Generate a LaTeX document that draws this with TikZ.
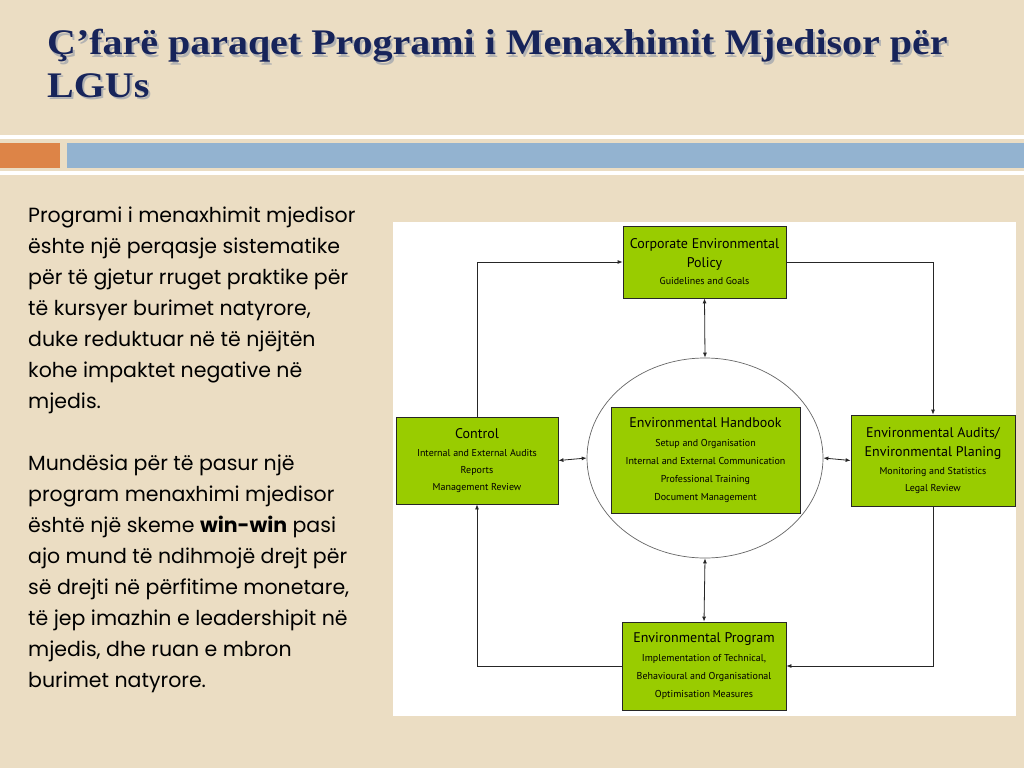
\documentclass[tikz,border=0pt]{standalone}
\usepackage{fontspec}
\setmainfont{Liberation Serif}
\newfontfamily\titlefont[FakeStretch=1.11]{Liberation Serif}
\newfontfamily\bodyfont{Poppins}
\newfontfamily\boxfont{PT Sans}
\usetikzlibrary{arrows.meta,shapes.geometric}
\definecolor{bg}{HTML}{EBDDC3}
\definecolor{navy}{HTML}{17245A}
\definecolor{orng}{HTML}{DD8447}
\definecolor{bluebar}{HTML}{93B3D0}
\definecolor{grn}{HTML}{99CC00}
\tikzset{
  gbox/.style={draw=black!85, line width=0.8pt, fill=grn, align=center, inner sep=2pt, font=\boxfont\fontsize{10}{18}\selectfont},
  conn/.style={draw=black!85, line width=0.8pt, -{Latex[length=5pt,width=4pt]}},
  dconn/.style={draw=black!85, line width=0.8pt, {Latex[length=5pt,width=4pt]}-{Latex[length=5pt,width=4pt]}},
  ttl/.style={anchor=base west, font=\titlefont\bfseries\fontsize{36}{42}\selectfont, inner sep=0},
}
\newcommand{\bt}[1]{{\fontsize{14}{21}\selectfont #1}}
\begin{document}
\begin{tikzpicture}[x=1pt,y=-1pt]
\useasboundingbox (0,0) rectangle (1024,768);
\fill[bg] (0,0) rectangle (1024,768);
% title
\node[ttl, text=black!30] at (49,57) {Ç’farë paraqet Programi i Menaxhimit Mjedisor për};
\node[ttl, text=black!30] at (49,99) {LGUs};
\node (title1) [ttl, text=navy] at (47,55) {Ç’farë paraqet Programi i Menaxhimit Mjedisor për};
\node (title2) [ttl, text=navy] at (47,97) {LGUs};
% bars
\fill[white] (0,135) rectangle (1024,139);
\fill[orng] (0,143) rectangle (60,168);
\fill[bluebar] (67,143) rectangle (1024,168);
\fill[white] (0,171) rectangle (1024,175);
% body text
\node (body) [anchor=north west, align=left, inner sep=0, font=\bodyfont\fontsize{20.5}{31}\selectfont] at (28,207) {%
Programi i menaxhimit mjedisor\\
ështe një perqasje sistematike\\
për të gjetur rruget praktike për\\
të kursyer burimet natyrore,\\
duke reduktuar në të njëjtën\\
kohe impaktet negative në\\
mjedis.\\[31pt]
Mundësia për të pasur një\\
program menaxhimi mjedisor\\
është një skeme \textbf{win-win} pasi\\
ajo mund të ndihmojë drejt për\\
së drejti në përfitime monetare,\\
të jep imazhin e leadershipit në\\
mjedis, dhe ruan e mbron\\
burimet natyrore.};
% diagram panel
\fill[white] (393,222) rectangle (1016,716);
\node (ell) [draw=black!60, line width=0.7pt, fill=white, ellipse, minimum width=236pt, minimum height=200pt] at (705,458) {};
\node (top) [gbox, minimum width=163pt, minimum height=72pt] at (704.5,262) {\bt{Corporate Environmental}\\[1pt]\bt{Policy}\\[-1pt]Guidelines and Goals};
\node (ctl) [gbox, minimum width=162pt, minimum height=87pt] at (477,460.5) {\bt{Control}\\[0pt]Internal and External Audits\\[-1pt]Reports\\[-1pt]Management Review};
\node (hb) [gbox, minimum width=189pt, minimum height=106pt] at (705.5,460) {\bt{Environmental Handbook}\\[1pt]Setup and Organisation\\Internal and External Communication\\Professional Training\\Document Management};
\node (aud) [gbox, minimum width=164pt, minimum height=91pt] at (933,460.5) {\bt{Environmental Audits/}\\[1pt]\bt{Environmental Planing}\\[0pt]Monitoring and Statistics\\[-1pt]Legal Review};
\node (prg) [gbox, minimum width=164pt, minimum height=88pt] at (704,666) {\bt{Environmental Program}\\[1pt]Implementation of Technical,\\Behavioural and Organisational\\Optimisation Measures};
% loop connectors
\draw[conn] (ctl.north) |- (top.west);
\draw[conn] (top.east) -| (aud.north);
\draw[conn] (aud.south) |- (prg.east);
\draw[conn] (prg.west) -| (ctl.south);
% double arrows
\draw[dconn] (top.south) -- (ell.north);
\draw[dconn] (ctl.east) -- (ell.west);
\draw[dconn] (ell.east) -- (aud.west);
\draw[dconn] (ell.south) -- (prg.north);
\end{tikzpicture}
\end{document}
